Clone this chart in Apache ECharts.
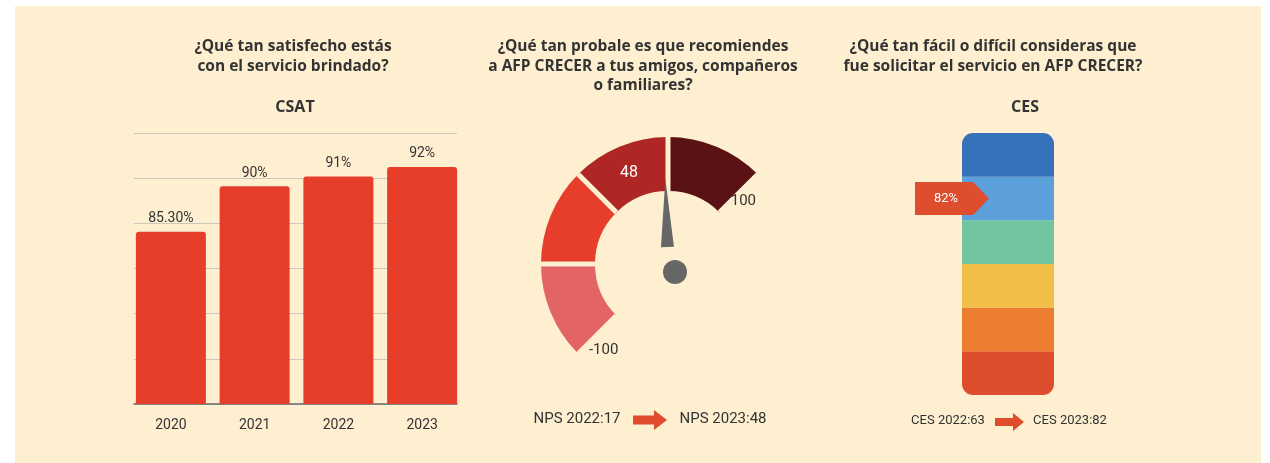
<!DOCTYPE html>
<html>
<head>
<meta charset="utf-8">
<title>CSAT / NPS / CES</title>
<script src="https://cdn.jsdelivr.net/npm/echarts@6/dist/echarts.min.js"></script>
<style>
  html, body { margin: 0; padding: 0; background: #fff; }
  #panel { position: absolute; left: 15px; top: 6px; width: 1246px; height: 457px; background: #feefd1; }
  #chart { position: absolute; left: 0; top: 0; width: 1270px; height: 463px; }
</style>
</head>
<body>
<div id="panel"></div>
<div id="chart"></div>
<script>
// CSAT por año
const csatYears = ['2020', '2021', '2022', '2023'];
const csatValues = [85.3, 90, 91, 92];

// NPS
const npsYears = ['2022', '2023'];
const npsValues = [17, 48];
const npsRange = [-100, 100];
const npsBandColors = ['#e26464', '#e63e2b', '#ae2724', '#5a1214'];

// CES: escala de 6 franjas, de abajo hacia arriba
const cesYears = ['2022', '2023'];
const cesValues = [63, 82];
const cesBands = [1, 1, 1, 1, 1, 1];
const cesBandColors = ['#de4d2d', '#ec7e2f', '#f2be47', '#71c6a0', '#5ba0da', '#3572ba'];

const textColor = '#333333';
const cream = '#feefd1';
const arrowRed = '#e04b2c';
const numFont = 'Roboto, sans-serif';
const titleFont = '"Open Sans", sans-serif';

const chart = echarts.init(document.getElementById('chart'));

// franja del CES en la que cae el valor actual
const cesLevel = Math.floor(cesValues[1] / 100 * cesBands.length) + 0.5;

function arrow(x, y, w, h, shaft, head) {
  // flecha de bloque hacia la derecha
  return {
    type: 'polygon',
    shape: {
      points: [
        [x, y - shaft / 2], [x + w - head, y - shaft / 2], [x + w - head, y - h / 2],
        [x + w, y], [x + w - head, y + h / 2], [x + w - head, y + shaft / 2], [x, y + shaft / 2]
      ]
    },
    style: { fill: arrowRed }
  };
}

function label(text, x, y, size) {
  return {
    type: 'text',
    x: x,
    y: y,
    style: {
      text: text,
      fill: textColor,
      font: size + 'px ' + numFont,
      textAlign: 'center',
      textVerticalAlign: 'middle'
    }
  };
}

const titleStyle = {
  color: textColor,
  fontFamily: titleFont,
  fontWeight: 'bold',
  fontSize: 15.5,
  lineHeight: 20
};
const subStyle = Object.assign({}, titleStyle, { fontSize: 16 });

const option = {
  animation: false,
  textStyle: { fontFamily: numFont },
  title: [
    { text: '¿Qué tan satisfecho estás\ncon el servicio brindado?', left: 293, top: 37, textAlign: 'center', padding: 0, textStyle: titleStyle },
    { text: 'CSAT', left: 295, top: 97, textAlign: 'center', padding: 0, textStyle: subStyle },
    { text: '¿Qué tan probale es que recomiendes\na AFP CRECER a tus amigos, compañeros\no familiares?', left: 643, top: 37, textAlign: 'center', padding: 0, textStyle: Object.assign({}, titleStyle, { lineHeight: 19.5 }) },
    { text: '¿Qué tan fácil o difícil consideras que\nfue solicitar el servicio en AFP CRECER?', left: 993, top: 37, textAlign: 'center', padding: 0, textStyle: titleStyle },
    { text: 'CES', left: 1025, top: 97, textAlign: 'center', padding: 0, textStyle: subStyle }
  ],
  grid: [
    { left: 129, top: 133, width: 335, height: 271 },
    { left: 134, top: 133, width: 323, height: 271 },
    { left: 962, top: 133, width: 92, height: 262 }
  ],
  xAxis: [
    {
      gridIndex: 0,
      type: 'category',
      data: csatYears,
      axisLine: { show: false },
      axisTick: { show: false },
      axisLabel: { margin: 14, fontSize: 14, color: textColor, fontFamily: numFont }
    },
    {
      gridIndex: 1,
      type: 'value',
      min: 0,
      max: 1,
      axisLine: { show: true, lineStyle: { color: '#6b6b6b', width: 1.5 } },
      axisTick: { show: false },
      axisLabel: { show: false },
      splitLine: { show: false }
    },
    { gridIndex: 2, type: 'category', data: ['CES'], show: false }
  ],
  yAxis: [
    { gridIndex: 0, type: 'value', min: 67.5, max: 95.5, show: false },
    {
      gridIndex: 1,
      type: 'value',
      min: 0,
      max: 6,
      interval: 1,
      axisLine: { show: false },
      axisTick: { show: false },
      axisLabel: { show: false },
      splitLine: { lineStyle: { color: '#cdc8bd', width: 1.2 } }
    },
    { gridIndex: 2, type: 'value', min: 0, max: 6, show: false }
  ],
  series: [
    {
      name: 'CSAT',
      type: 'bar',
      xAxisIndex: 0,
      yAxisIndex: 0,
      data: csatValues,
      barWidth: 70,
      itemStyle: { color: '#e63e2b', borderRadius: [3, 3, 0, 0] },
      label: {
        show: true,
        position: 'top',
        distance: 6,
        fontSize: 14,
        color: textColor,
        fontFamily: numFont,
        formatter: p => (p.value % 1 ? p.value.toFixed(2) : p.value) + '%'
      }
    },
    {
      name: 'NPS',
      type: 'gauge',
      center: [668, 264],
      radius: 127,
      startAngle: 225,
      endAngle: 45,
      min: npsRange[0],
      max: npsRange[1],
      splitNumber: 4,
      axisLine: {
        lineStyle: {
          width: 54,
          color: npsBandColors.map((c, i) => [(i + 1) / npsBandColors.length, c])
        }
      },
      splitLine: { show: true, length: 54, distance: -54, lineStyle: { color: cream, width: 5 } },
      axisTick: { show: false },
      axisLabel: {
        distance: 2.5,
        fontSize: 15,
        color: textColor,
        fontFamily: numFont,
        formatter: v => v === npsRange[0] ? '{lo|' + v + '}' : (v === npsRange[1] ? '{hi|' + v + '}' : ''),
        rich: {
          lo: { fontSize: 15, color: textColor, fontFamily: numFont, padding: [0, 0, 4, 9] },
          hi: { fontSize: 15, color: textColor, fontFamily: numFont, padding: [50, 0, 0, 0] }
        }
      },
      pointer: {
        icon: 'triangle',
        length: 68,
        width: 13,
        offsetCenter: [0, -17],
        itemStyle: { color: '#676767' }
      },
      anchor: {
        show: true,
        showAbove: true,
        size: 24,
        offsetCenter: [7, 8],
        itemStyle: { color: '#676767' }
      },
      title: { show: false },
      detail: {
        offsetCenter: [-39, -91],
        fontSize: 16,
        fontWeight: 'normal',
        color: '#ffffff',
        fontFamily: numFont,
        formatter: '{value}'
      },
      data: [{ value: npsValues[1], name: 'NPS ' + npsYears[1] }]
    }
  ].concat(cesBands.map((v, i) => ({
    name: 'CES ' + i,
    type: 'bar',
    xAxisIndex: 2,
    yAxisIndex: 2,
    stack: 'ces',
    barWidth: 92,
    data: [v],
    itemStyle: {
      color: cesBandColors[i],
      borderRadius: i === 0 ? [0, 0, 11, 11] : (i === cesBands.length - 1 ? [11, 11, 0, 0] : 0)
    }
  }))).concat([
    {
      name: 'CES actual',
      type: 'scatter',
      xAxisIndex: 2,
      yAxisIndex: 2,
      z: 10,
      data: [[0, cesLevel]],
      symbol: 'path://M0,0 L58,0 L74,16.5 L58,33 L0,33 Z',
      symbolSize: [74, 33],
      symbolOffset: [-56, 0],
      itemStyle: { color: '#de4d2d', opacity: 1 },
      label: {
        show: true,
        position: 'inside',
        offset: [-6, 0],
        color: '#ffffff',
        fontSize: 13,
        fontFamily: numFont,
        formatter: cesValues[1] + '%'
      }
    }
  ]),
  graphic: [
    label('NPS ' + npsYears[0] + ':' + npsValues[0], 577, 419, 15),
    arrow(633, 420, 34, 20, 9, 13),
    label('NPS ' + npsYears[1] + ':' + npsValues[1], 723, 419, 15),
    label('CES ' + cesYears[0] + ':' + cesValues[0], 948, 421, 13),
    arrow(995, 422, 29, 18, 8, 11),
    label('CES ' + cesYears[1] + ':' + cesValues[1], 1070, 421, 13)
  ]
};

chart.setOption(option);
</script>
</body>
</html>
